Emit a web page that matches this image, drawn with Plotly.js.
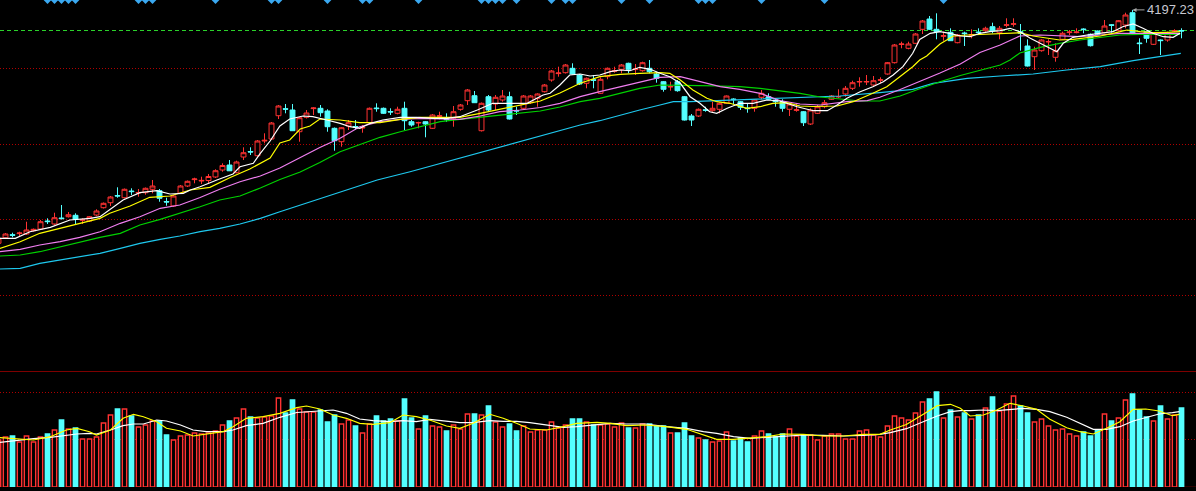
<!DOCTYPE html>
<html><head><meta charset="utf-8">
<script src="https://cdn.plot.ly/plotly-3.0.1.min.js"></script>
<style>html,body{margin:0;padding:0;background:#000;overflow:hidden}#chart{width:1196px;height:491px}</style>
</head><body><div id="chart"></div>
<script>
// ---- daily OHLC (index points) ----
const openP=[3730.4,3741.6,3747.6,3749.8,3749,3755.6,3759,3775,3769,3781,
3783.6,3786.4,3776.4,3775,3787,3801.6,3811.6,3826,3821.6,3835,
3831,3831.6,3838.4,3835.6,3814,3805,3830.4,3845,3857.8,3855,
3856,3863,3877,3887,3871.6,3903,3914,3905.6,3935,3939,
3985.6,3999.6,3997,3953.6,3982.4,3999.8,4000.4,3995,3960.4,3933.6,
3965,3964,3961,3971.6,4001,4000.4,3994,3990.4,4000.4,3973.6,
3971,3973.6,3960.4,3984.4,3979,3980.4,3998.4,4015.6,4025.6,3955.6,
4023.6,4009,4017,4023.6,3996,4000.4,4011.6,4020.4,4033.6,4057,
4069.8,4071.6,4080.4,4067,4050.4,4057.4,4030.4,4063.6,4074.4,4078.4,
4090.4,4077.8,4075.6,4080.4,4069,4053.6,4043,4053.6,4023.6,3985,
3985,3997.4,3995.6,3998.4,4010.4,4019,4013.6,4001,4000.4,4022.4,
4023.6,4017,4013.6,3998.4,3996.4,3993.6,3969,3990.4,4003.6,4018.4,
4023,4029,4040.4,4053,4053,4047,4056.4,4069,4091.6,4128,
4120.4,4130.4,4158.4,4179,4158.4,4144.4,4152.4,4131.6,4151,4146.4,
4153,4155.6,4163.6,4151.6,4166.4,4168.4,4153.6,4125,4103.6,4115.6,
4133,4102.4,4138.4,4151.8,4151.8,4159,4148.4,4155,4151.6,4167.4,
4155.6,4167,4191.6,4131,4153.6,4128.4,4137,4137,4155,4156];
const highP=[3745,3751,3751.6,3753.6,3773.6,3760,3777,3780.4,3791.6,3807,
3793,3790.4,3780.4,3785,3798.4,3812,3825,3842.4,3840,3840.4,
3839,3842,3857,3839,3821.6,3827,3847,3856,3861.6,3863.6,
3869,3878.4,3890.4,3897,3895.6,3922.4,3922.4,3937,3950.4,3973,
4007,4009,4009,3983,3997,4002.4,4007,3998.4,3962,3963,
3977,3977,3967,4002,4010.4,4002,4000.4,4003.6,4013.6,3977,
3973.6,3975,3989,3993.6,3990.4,4005,4009,4039,4035,4012,
4027,4027,4037,4033.6,4003.6,4027,4027,4030.4,4049,4077,
4083.6,4089,4090.4,4069,4062,4067,4062.4,4082,4083.6,4089,
4091.6,4089,4093.6,4097,4073.6,4055,4053.6,4057,4025,3989,
4000,4003.6,4013.6,4012,4026,4020.4,4015,4010.4,4018,4037,
4030.4,4020.4,4018.4,4010.4,4010.4,3995,4000.4,4007,4017,4027,
4038.4,4045,4055.6,4062.4,4067,4065,4062.4,4093,4129,4133.6,
4133.6,4151,4177,4185,4190.4,4153.6,4160.4,4149,4153.6,4158.4,
4160.4,4163.6,4171.6,4165,4180.4,4180.4,4169,4138.4,4123.6,4138.4,
4138.4,4130.4,4153.6,4157,4160.4,4160.4,4150,4156,4177,4169,
4177,4191.6,4197.23,4140.4,4154,4153,4138,4153.6,4158.4,4160.4];
const lowP=[3727,3739,3742.4,3745,3747,3754,3757,3769,3767,3778,
3782,3767,3769,3773,3785,3800,3805,3821.6,3820,3827,
3823.6,3827.6,3830.4,3813.6,3805.6,3803,3829,3843,3850.4,3849,
3851,3861,3873.6,3875,3870.4,3897,3907,3904,3930.4,3937,
3979,3990.4,3955,3933.6,3980,3987,3983.6,3953.6,3915.6,3923.6,
3957,3957,3951.6,3970,3993.6,3989,3987,3988.4,3957,3963.6,
3960.4,3942.4,3959,3978.4,3973.6,3963.6,3995.6,4007,4011,3954,
3993.6,3997,4013.6,3978,3987,3998.4,4009,4003.6,4032,4053.6,
4063.6,4070,4068,4047,4040.4,4040.4,4029,4058.4,4071.6,4070.4,
4070.4,4067,4073.6,4070.4,4051.6,4033.6,4035.6,4033.6,3976,3965,
3983,3993.6,3993.6,3990.4,4009,4009,3997,3991.6,3993.6,4018.4,
4017,4003.6,3993.6,3985,3993.6,3965,3967,3989,4000.4,4017,
4020.4,4023.6,4037,4043.6,4047,4045,4050.4,4067.6,4090,4120.4,
4118.4,4129,4149,4157,4138.4,4135.6,4135,4130.4,4125,4140.4,
4147,4153.6,4150.4,4138.4,4162.4,4163.6,4115.6,4084,4077,4113.6,
4107,4093.6,4137,4147,4150.4,4150.4,4124,4147,4150.4,4151.6,
4154,4160.4,4147,4109,4131.6,4127,4107,4133.6,4153.6,4140.4];
const closeP=[3740.4,3749,3746.4,3751,3757,3758.4,3773.6,3773.8,3781.6,3779.8,
3787.6,3778.4,3777.6,3783.6,3795,3810.4,3823,3825,3838.4,3833.8,
3832,3840.4,3845,3820.4,3813,3825,3845,3854.4,3859,3856.2,
3864,3875.6,3886,3875.4,3893,3911.6,3913,3935,3936.4,3971,
4005,3998.6,3955.6,3981.6,3991,4001,3991.6,3963.6,3935.6,3961.6,
3971.6,3963,3962,4000.4,3999.8,3990.4,3993,3998.4,3975.6,3967,
3972,3969,3987,3985.6,3977.8,3993.6,4007,4037,4011.6,4010.4,
3997,4022.4,4025,3979,3995,4025,4025,4029,4047,4075,
4071,4087,4069,4049,4060.4,4056.4,4058.4,4080.4,4075.6,4087,
4078.4,4079,4091.6,4073.6,4060.4,4038.4,4044,4035.6,3977,3977,
3998.4,3996.4,4000.4,4010.4,4025,4017.8,4002.4,3999.8,4017,4030.4,
4018.4,4013.6,4000.4,4009,3997.4,3971.6,3997,4003.6,4011.6,4025,
4024,4040.4,4051.6,4054,4054,4055.6,4057.4,4091.6,4127,4129,
4129,4149,4175,4158.4,4153.6,4145.6,4135.6,4147,4149.8,4147.4,
4151.8,4160.4,4155.6,4160.4,4167.4,4169.4,4150.4,4085,4117,4137,
4134,4115.6,4150.4,4153,4153,4157.8,4125.6,4148.4,4165,4166.4,
4175.6,4187,4150.4,4129.8,4140.4,4151.6,4135.8,4151.6,4156,4155];
const volume=[47,50,51,45,51,45,50,53,57,67,
58,59,48,48,50,64,72,78,78,71,
60,62,66,66,52,47,51,52,54,53,
54,56,62,66,69,78,70,69,70,71,
89,74,87,78,75,75,77,65,72,63,
67,61,54,63,71,66,68,66,88,69,
58,71,61,60,56,62,58,73,73,72,
81,65,60,63,56,61,55,57,57,65,
59,62,68,68,65,62,62,63,60,64,
59,59,63,63,61,61,54,54,64,51,
49,47,45,46,55,46,49,45,51,56,
53,50,53,58,51,52,52,47,51,53,
53,48,48,56,57,52,50,61,71,69,
67,74,85,88,95,69,77,70,74,68,
72,79,90,76,83,91,81,74,65,68,
61,57,58,53,51,55,51,57,73,66,
69,87,93,77,70,66,81,68,72,79];

// ---- moving averages (candle position, value) ----
const ma5X=[0.2,2.4,4.5,7.4,10.2,13.1,14.5,15.9,17.8,20.2,22.6,24.5,26.4,27.4,28.8,31.2,33.5,34.5,36.4,37.4,38.8,40.2,41.6,43.5,44.9,46.9,48.8,50.2,51.6,53.1,54.9,57.4,59.8,62.1,64.1,65.9,68.4,70.6,73.1,75.5,77.8,78.8,80.2,81.6,83.1,84.5,85.9,87.4,88.8,90.2,91.6,93.1,94.5,95.9,97.4,98.8,100.2,101.6,102.6,104.1,105.9,107.8,109.8,111.6,114.1,116.4,118.4,119.8,121.2,123.1,124.9,126.4,127.8,129.2,130.6,131.6,133.1,134.5,135.9,137.4,138.8,140.2,141.6,143.1,144.5,145.9,147.4,148.8,150.2,151.2,152.1,153.5,155.5,157.4,159.2,160.6,162.1,163.5,164.9,166.4,167.8,168.8];
const ma5Y=[3740.4,3740.4,3753.6,3762.4,3777,3780.4,3783.6,3797,3817,3831.6,3835.6,3829,3830.4,3837,3843.6,3857,3869,3883.6,3890.4,3910.4,3935,3965,3979,3985,3983.6,3977,3970.4,3963.6,3960.4,3970.4,3977,3982.4,3982.4,3980.4,3980.4,3983.6,3997,4010.4,4010.4,4010.4,4027,4030.4,4047,4067,4069,4065,4067,4073.6,4077,4075.6,4082.4,4078.4,4070.4,4063.6,4050.4,4023.6,4010.4,3993.6,3990.4,4000.4,4010.4,4010.4,4017,4015,4003.6,3995.6,3995.6,4007,4020.4,4033.6,4043.6,4053.6,4067,4083.6,4110.4,4138,4150.4,4153.6,4150.4,4145,4143.6,4150.4,4153.6,4155.6,4160.4,4153.6,4140.4,4130.4,4120.4,4113.6,4130.4,4142.4,4147,4150.4,4153.6,4163.6,4169,4160.4,4150.4,4143.6,4142.4,4150.4];
const ma10X=[0.2,3.1,5.9,8.8,11.6,14.5,15.9,18.8,21.6,24.5,27.4,28.8,30.2,33.1,35.9,38.8,40.2,41.6,43.1,44.5,45.9,48.8,51.6,54.5,57.4,60.2,63.1,65.9,68.8,71.6,74.5,77.4,80.2,83.1,85.9,88.8,91.6,94.5,95.9,97.4,99.2,101.2,102.6,104.5,106.9,108.8,110.6,112.6,114.5,116.4,119.8,122.1,124.9,126.9,128.8,130.6,131.6,132.6,134.5,136.4,138.4,141.2,144.1,145.9,147.8,149.8,151.6,153.5,155.5,157.4,159.2,161.2,163.1,164.9,166.9,168.8];
const ma10Y=[3720.4,3733.6,3750.4,3760.4,3769,3780.4,3790.4,3805,3822.4,3825,3837,3840.4,3842.4,3862,3879,3901,3931,3937,3959,3965,3979,3977,3971.6,3971.6,3978.4,3982.4,3982.4,3982.4,3990.4,3998.4,4007,4015,4031,4050.4,4063.6,4068.4,4070.4,4071.6,4070.4,4057,4037,4020.4,4013.6,4010.4,4000.4,4003.6,4010.4,4011.6,4005,4004,4005,4013.6,4030.4,4043.6,4064,4083.6,4097,4105,4129,4145,4147,4148.4,4150.4,4151.6,4145,4140.4,4137,4138.4,4142.4,4145,4150.4,4157,4153.6,4151.6,4152.4,4153.6];
const ma20X=[0.2,3.1,5.9,8.8,11.6,14.5,17.4,20.2,23.1,25.9,28.8,31.6,34.5,37.4,40.2,43.1,45.9,48.8,51.6,54.5,57.4,60.2,63.1,65.9,68.8,71.6,74.5,77.4,80.2,83.1,85.9,88.8,91.6,94.5,97.4,100.2,103.1,105.9,108.8,111.6,114.5,117.4,121.2,124.1,125.9,128.8,131.6,134.5,137.4,140.2,143.1,145.9,148.8,151.6,154.5,157.4,160.2,163.1,165.9,168.8];
const ma20Y=[3713.6,3718.4,3727,3733.6,3742.4,3753.6,3770.4,3783.6,3800.4,3807,3822,3838.4,3853.6,3865,3881,3902,3922,3940.4,3963.6,3973.6,3978.4,3980.4,3979,3978.4,3985,3993.6,3997,4002,4010.4,4023.6,4033.6,4043.6,4053.6,4062.4,4063.6,4053.6,4043.6,4038.4,4030.4,4016,4009,4007,4013.6,4015.6,4022.4,4038,4053.6,4071,4089,4112,4127,4145,4147,4145,4143.6,4147,4150.4,4150.4,4150.4,4150.4];
const ma30X=[0.2,3.1,5.9,8.8,11.6,14.5,17.4,20.2,23.1,25.9,28.8,31.6,34.5,37.4,40.2,43.1,45.9,48.8,51.6,54.5,57.4,60.2,63.1,65.9,68.8,71.6,74.5,77.4,80.2,83.1,85.9,88.8,91.6,94.5,97.4,100.2,103.1,105.9,108.8,111.6,114.5,117.4,120.2,123.1,125.9,128.8,131.6,134.5,137.4,140.2,143.1,144.5,145.9,148.8,151.6,154.5,157.4,160.2,163.1,165.9,168.8];
const ma30Y=[3705,3707,3713.6,3723.6,3733.6,3742.4,3750.4,3767,3778.4,3790.4,3803.6,3817,3825,3841,3858,3873,3892,3913.6,3927,3942.4,3953.6,3963.6,3973.6,3978.4,3982.4,3987,3990.4,3995,4003,4013.6,4020.4,4030.4,4040.4,4047,4047,4045.6,4045,4043.6,4040.4,4035,4030.4,4023,4019,4015,4015,4025,4039.4,4053.6,4066,4077,4087,4097,4111,4122.4,4130.4,4137,4142.4,4147,4148.4,4148.4,4148.4];
const ma60X=[0.2,3.1,5.9,8.8,11.6,14.5,17.4,20.2,23.1,25.9,28.8,31.6,34.5,37.4,40.2,43.1,54.1,58.8,63.1,67.4,71.6,75.9,80.2,83.1,85.9,88.8,91.6,94.5,96.4,98.8,101.2,105.9,110.6,115.5,120.2,125.9,130.6,133.5,138.4,143.1,147.8,152.6,157.4,162.1,166.9,168.9];
const ma60Y=[3679,3680.4,3690.4,3697,3703.6,3710.4,3720.4,3730.4,3738.4,3745,3753.6,3760.4,3769,3780.4,3793.6,3807,3857,3873.6,3890.4,3907,3923.6,3940.4,3957,3967,3975.6,3987,3997,4007,4013.6,4013.6,4015,4017,4020.4,4022.4,4025,4031.6,4038.4,4050.4,4060.4,4065,4069,4077,4083.6,4095.6,4105,4110.4];
// volume moving averages
const vmaX=[0.2,3,5,7.4,9.7,11.2,13,14,16,17.8,19.3,20.7,22.6,24,26,27.8,29.7,32.1,33.5,35.4,37.8,40.2,42.6,44,45.9,47.8,49.7,51.6,53.5,55.9,57.8,59.7,61.6,64,65.9,67.8,70.2,72.1,74,75.9,78.3,80.7,82.6,85.5,87.4,89.7,92.4,95.4,98.3,100.7,102.6,105,107.4,109.8,112.1,115,117.8,120.7,123.5,125.9,127.4,129.7,132.7,134.1,136,137.4,138.8,140.7,142.6,144.5,146.4,148.3,150.2,152.6,154.5,156.4,158.3,160.2,162.1,163.9,165.8,167.7,168.7];
const vma5Y=[49.3,47.7,47,50.3,57,58.7,55.3,52,57,68.7,72.7,70.3,65.3,58.7,56,51,52.7,55.3,60.3,68.7,70.3,73.7,79.3,81,78,72,68.7,63.7,62.7,64.3,72,70.3,67,61,58.7,63.7,72.7,68.7,63.7,58,57,60.3,63.7,64.7,63.7,61.3,62,60.3,57.7,52,47.7,47.7,48.7,50.3,53,52.7,51,51,52.7,52.7,57,62.5,75.3,81.3,82.7,78.7,71,72,77,83.7,81,77.7,67.7,59.3,55.3,53,58.7,65.3,77.7,78,76,71.3,72.7];
const vma10Y=[44.7,47,48.3,49.7,52,53,53.7,53,57,61.3,63,63,67,66,62,57,55.3,55.3,57,61.3,63.7,69.7,74.5,75.3,76.3,77,73.7,68,66.3,65.3,66.3,65.3,67.7,65.7,64.3,64.3,66.3,65.7,65.7,64.3,62,59.7,60.3,62,63.7,63,63,60.3,58.7,55.3,53.7,50.3,48.7,49.7,51,52,51.7,51,51.7,52.7,54.3,58.3,67,71,75.3,76.3,76.3,77,76.3,77.7,78.7,77.7,75.3,69.7,63.7,57.7,57.7,60.3,66,69.3,73,74.3,75.3];
// signal markers along the top edge (candle positions)
const signalIdx=[7,8,9,10,11,20,21,22,31,39,40,47,52,53,60,69,70,71,72,74,79,81,82,89,93,100,101,102,109,118,135];
const highLabel='4197.23';

// ---- build ----
const idx=openP.map((_,i)=>i);
const UP='#ff3232', DN='#54ffff';
const isUp=idx.map(i=>closeP[i]>=openP[i]);
const TOP=4217, BOT=3477;   // price axis range
const traces=[
 {type:'candlestick',x:idx,open:openP,high:highP,low:lowP,close:closeP,xaxis:'x',yaxis:'y',
  increasing:{line:{color:UP,width:1},fillcolor:'#000000'},
  decreasing:{line:{color:DN,width:1},fillcolor:DN},whiskerwidth:0,hoverinfo:'skip'},
 {type:'bar',x:idx,y:volume,xaxis:'x',yaxis:'y2',width:0.62,
  marker:{color:isUp.map(u=>u?'#000000':DN),line:{color:isUp.map(u=>u?UP:DN),width:1.4}},hoverinfo:'skip'},
 {type:'scatter',mode:'lines',x:ma60X,y:ma60Y,line:{color:'#1ec8ee',width:1.2},hoverinfo:'skip'},
 {type:'scatter',mode:'lines',x:ma30X,y:ma30Y,line:{color:'#00d200',width:1.2},hoverinfo:'skip'},
 {type:'scatter',mode:'lines',x:ma20X,y:ma20Y,line:{color:'#f07ef0',width:1.2},hoverinfo:'skip'},
 {type:'scatter',mode:'lines',x:ma10X,y:ma10Y,line:{color:'#ffff00',width:1.2},hoverinfo:'skip'},
 {type:'scatter',mode:'lines',x:ma5X,y:ma5Y,line:{color:'#ffffff',width:1.2},hoverinfo:'skip'},
 {type:'scatter',mode:'lines',x:vmaX,y:vma10Y,yaxis:'y2',line:{color:'#ffffff',width:1.2},hoverinfo:'skip'},
 {type:'scatter',mode:'lines',x:vmaX,y:vma5Y,yaxis:'y2',line:{color:'#ffff00',width:1.2},hoverinfo:'skip'},
 {type:'scatter',mode:'markers',x:signalIdx,y:signalIdx.map(()=>TOP),cliponaxis:true,
  marker:{symbol:'diamond',size:6,color:'#3aa8f0'},hoverinfo:'skip'}
];
const hl=(y,yref,color,dash,w)=>({type:'line',xref:'paper',x0:0,x1:1,yref:yref,y0:y,y1:y,layer:'below',line:{color:color,width:w||1,dash:dash}});
const shapes=[
 hl(4156,'y','#2ad22a','4px,3px'),
 hl(4080,'y','#b00000','1px,2px'),
 hl(3928,'y','#b00000','1px,2px'),
 hl(3778,'y','#b00000','1px,2px'),
 hl(3626,'y','#b00000','1px,2px'),
 hl(115.5,'y2','#800000','solid'),
 hl(94.5,'y2','#b00000','1px,2px'),
 hl(47.5,'y2','#b00000','1px,2px'),
 hl(-0.5,'y2','#c00000','solid',1.5)
];
const layout={
 width:1196,height:491,margin:{l:0,r:0,t:0,b:0,pad:0},
 paper_bgcolor:'#000000',plot_bgcolor:'#000000',showlegend:false,
 xaxis:{range:[0.214,171.07],visible:false,rangeslider:{visible:false},fixedrange:true},
 yaxis:{domain:[0.2464,1],range:[BOT,TOP],visible:false,fixedrange:true},
 yaxis2:{domain:[0.00815,0.2444],range:[0,116],visible:false,anchor:'x',fixedrange:true},
 boxgap:0.3, boxgroupgap:0,
 shapes:shapes,
 annotations:[{x:highP.indexOf(Math.max(...highP)),y:Math.max(...highP),xref:'x',yref:'y',text:highLabel,
  showarrow:true,ax:12,ay:0,xanchor:'left',arrowcolor:'#a8a8a8',arrowwidth:1,arrowhead:2,arrowsize:0.8,
  font:{family:'Liberation Sans, Arial, sans-serif',size:13,color:'#c8c8d0'}}]
};
Plotly.newPlot('chart',traces,layout,{staticPlot:true,displayModeBar:false});
</script></body></html>
